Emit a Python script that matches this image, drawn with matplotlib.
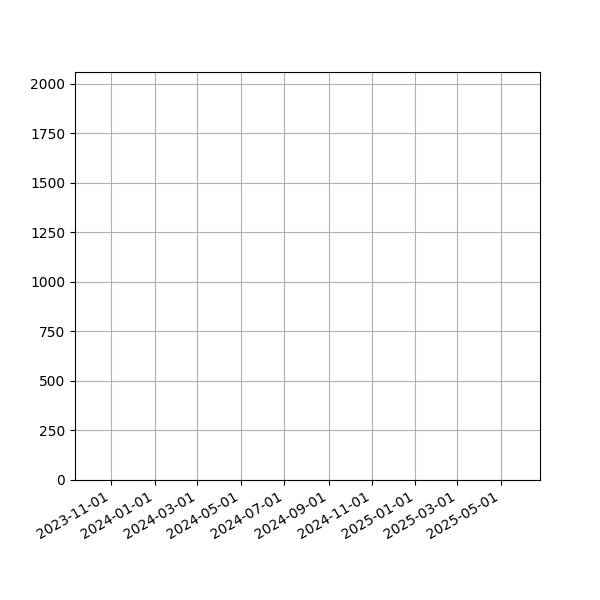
import matplotlib
matplotlib.use("Agg")
import matplotlib.pyplot as plt
import matplotlib.dates as mdates
import numpy as np
import datetime as dt

# visible window of the (empty) time series
x_start = dt.datetime(2023, 9, 11)
x_end = dt.datetime(2025, 6, 25)
y_max = 2060

dates = []
values = []

fig, ax = plt.subplots(figsize=(6, 6), dpi=100)
ax.plot(dates, values)
ax.set_xlim(x_start, x_end)
ax.set_ylim(0, y_max)
ax.xaxis.set_major_locator(mdates.MonthLocator(bymonth=[1, 3, 5, 7, 9, 11]))
ax.xaxis.set_major_formatter(mdates.DateFormatter("%Y-%m-%d"))
ax.set_xticks([t for t in ax.get_xticks() if t >= mdates.date2num(dt.datetime(2023, 11, 1))])
ax.grid(True)
fig.autofmt_xdate()
fig.savefig("out.png")
